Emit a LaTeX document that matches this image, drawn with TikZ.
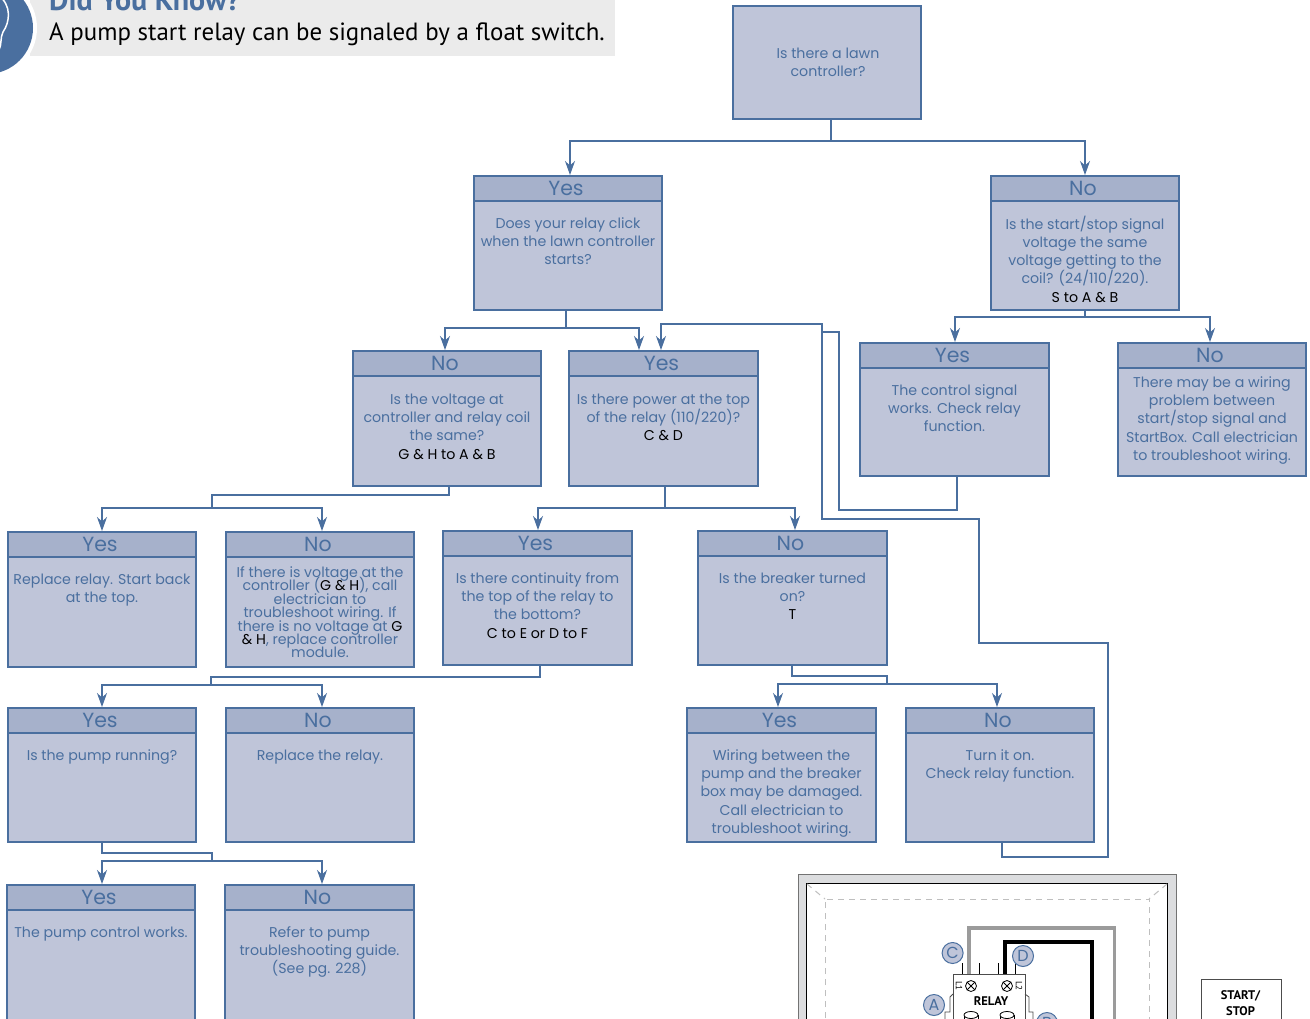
\documentclass[tikz,border=0pt]{standalone}
\usepackage{fontspec}
\setmainfont{Poppins}
\newfontfamily\din{PT Sans}
\usetikzlibrary{arrows.meta,calc}
\definecolor{bl}{HTML}{4A6F9F}
\definecolor{boxf}{HTML}{BFC5D9}
\definecolor{headf}{HTML}{A6B1CB}
\definecolor{pan}{HTML}{EBEBEB}
\definecolor{wallg}{HTML}{DCDDDF}
\definecolor{wireg}{HTML}{9B9B9B}
\newcommand\tightls{\lineskiplimit=-100pt\relax}
\tikzset{
 bodybox/.style={draw=bl,fill=boxf,line width=1.6pt,anchor=north west,inner sep=0,outer sep=0},
 headbox/.style={draw=bl,fill=headf,line width=1.6pt,anchor=north west,inner sep=0,outer sep=0,text=bl,font=\fontsize{20.5}{22}\selectfont},
 conn/.style={draw=bl,line width=1.25pt},
 arr/.style={conn,shorten >=1pt,-{Stealth[length=14pt,width=10pt,inset=4.5pt]}},
 tag/.style={circle,draw=bl,fill=boxf,line width=1pt,minimum size=21pt,inner sep=0,text=bl,font=\fontsize{16}{18}\selectfont},
 thin wire/.style={draw=black,line width=.8pt}
}
\newcommand\blk[1]{{\color{black}#1}}
\newcommand\topstrut{\rule{0pt}{12pt}}
% name x0 y0 x1 y1 head leading topoffset text
\newcommand\qbox[9]{%
 \pgfmathsetlengthmacro\qw{(#4-#2)*1pt}\pgfmathsetlengthmacro\qh{(#5-#3)*1pt}%
 \node[bodybox,minimum width=\qw,minimum height=\qh] (#1) at (#2,#3) {};
 \node[headbox,minimum width=\qw,minimum height=25pt] (#1h) at (#2,#3) {\hspace*{-4pt}\raisebox{-1.5pt}{#6}};
 \node[anchor=north,inner sep=0,align=center,text=bl,font={\fontsize{14.2}{#7}\selectfont\tightls}] (#1t) at ($(#1h.south)+(0,#8)$) {\topstrut #9};
}
\begin{document}
\begin{tikzpicture}[x=1pt,y=-1pt]
\useasboundingbox (0,0) rectangle (1310,1018);
\clip (0,0) rectangle (1310,1018);
\fill[white] (0,0) rectangle (1310,1018);
% did you know panel
\fill[pan] (30,-2) rectangle (615,56);
\fill[white] (-13,28) circle (50);
\fill[bl] (-13,28) circle (46);
\draw[white,line width=1.5pt] (-2,-5) .. controls (12,5) and (10,22) .. (3,32) .. controls (0,38) and (2,44) .. (-1,50);
\node[anchor=base west,inner sep=0,text=bl,font=\din\bfseries\fontsize{30}{32}\selectfont] (dyk) at (49,10) {Did You Know?};
\node[anchor=base west,inner sep=0,text=black,font=\din\fontsize{24.9}{28}\selectfont] (dyk2) at (49,40) {A pump start relay can be signaled by a float switch.};
% boxes
\node[bodybox,minimum width=188pt,minimum height=113pt] (lawn) at (733,6) {};
\node[anchor=north,inner sep=0,align=center,text=bl,font=\fontsize{14.2}{18.2}\selectfont] (lawnt) at (828,46) {\topstrut Is there a lawn\\controller?};
\qbox{yA}{474}{176}{662}{310}{Yes}{18.3}{15}{Does your relay click\\when the lawn controller\\starts?}
\qbox{nA}{991}{176}{1179}{310}{No}{18.3}{14.5}{Is the start/stop signal\\voltage the same\\voltage getting to the\\coil? (24/110/220).\\\blk{S to A \& B}}
\qbox{nB}{353}{351}{541}{486}{No}{18.3}{16}{Is the voltage at\\controller and relay coil\\the same?\\\blk{G \& H to A \& B}}
\qbox{yB}{569}{351}{758}{486}{Yes}{18.3}{16}{Is there power at the top\\of the relay (110/220)?\\\blk{C \& D}}
\qbox{yC}{860}{343}{1049}{476}{Yes}{18.3}{15}{The control signal\\works. Check relay\\function.}
\qbox{nC}{1118}{343}{1306}{476}{No}{18.3}{7}{There may be a wiring\\problem between\\start/stop signal and\\StartBox. Call electrician\\to troubleshoot wiring.}
\qbox{yD}{8}{532}{196}{667}{Yes}{18.3}{15}{Replace relay. Start back\\at the top.}
\qbox{nD}{226}{532}{414}{667}{No}{13.45}{8}{If there is voltage at the\\controller (\blk{G \& H}), call\\electrician to\\troubleshoot wiring. If\\there is no voltage at \blk{G}\\\blk{\& H}, replace controller\\module.}
\qbox{yE}{443}{531}{632}{665}{Yes}{18.3}{15}{Is there continuity from\\the top of the relay to\\the bottom?\\\blk{C to E or D to F}}
\qbox{nE}{698}{531}{887}{665}{No}{18.3}{15}{Is the breaker turned\\on?\\\blk{T}}
\qbox{yF}{8}{708}{196}{842}{Yes}{18.3}{15}{Is the pump running?}
\qbox{nF}{226}{708}{414}{842}{No}{18.3}{15}{Replace the relay.}
\qbox{yG}{687}{708}{876}{842}{Yes}{18.3}{15}{Wiring between the\\pump and the breaker\\box may be damaged.\\Call electrician to\\troubleshoot wiring.}
\qbox{nG}{906}{708}{1094}{842}{No}{18.3}{15}{Turn it on.\\Check relay function.}
\qbox{yH}{7}{885}{195}{1040}{Yes}{18.3}{15}{The pump control works.}
\qbox{nH}{225}{885}{414}{1040}{No}{18.3}{15}{Refer to pump\\troubleshooting guide.\\(See pg. 228)}
% connectors
\coordinate (j1) at (831,141);\coordinate (a1) at (570,141);\coordinate (b1) at (1085,141);
\draw[conn] (lawn.south -| j1) -- (j1);
\draw[arr] (j1) -- (a1) -- (a1 |- yA.north);
\draw[arr] (j1) -- (b1) -- (b1 |- nA.north);
\coordinate (j2) at (566,328);\coordinate (a2) at (445,328);\coordinate (b2) at (639,328);
\draw[conn] (yA.south -| j2) -- (j2);
\draw[arr] (j2) -- (a2) -- (a2 |- nB.north);
\draw[arr] (j2) -- (b2) -- (b2 |- yB.north);
\coordinate (j3) at (1085,317);\coordinate (a3) at (955,317);\coordinate (b3) at (1210,317);
\draw[conn] (nA.south -| j3) -- (j3);
\draw[arr] (j3) -- (a3) -- (a3 |- yC.north);
\draw[arr] (j3) -- (b3) -- (b3 |- nC.north);
\coordinate (j4a) at (449,495);\coordinate (j4b) at (212,495);\coordinate (j4) at (212,508);\coordinate (a4) at (102,508);\coordinate (b4) at (322,508);
\draw[conn] (nB.south -| j4a) -- (j4a) -- (j4b) -- (j4);
\draw[arr] (j4) -- (a4) -- (a4 |- yD.north);
\draw[arr] (j4) -- (b4) -- (b4 |- nD.north);
\coordinate (j5) at (665,508);\coordinate (a5) at (538,508);\coordinate (b5) at (795,508);
\draw[conn] (yB.south -| j5) -- (j5);
\draw[arr] (j5) -- (a5) -- (a5 |- yE.north);
\draw[arr] (j5) -- (b5) -- (b5 |- nE.north);
\coordinate (j6a) at (540,677);\coordinate (j6b) at (211,677);\coordinate (j6) at (211,685);\coordinate (a6) at (102,685);\coordinate (b6) at (322,685);
\draw[conn] (yE.south -| j6a) -- (j6a) -- (j6b) -- (j6);
\draw[arr] (j6) -- (a6) -- (a6 |- yF.north);
\draw[arr] (j6) -- (b6) -- (b6 |- nF.north);
\coordinate (j7a) at (792,676);\coordinate (j7b) at (887,676);\coordinate (j7) at (887,684);\coordinate (a7) at (778,684);\coordinate (b7) at (997,684);
\draw[conn] (nE.south -| j7a) -- (j7a) -- (j7b) -- (j7);
\draw[arr] (j7) -- (a7) -- (a7 |- yG.north);
\draw[arr] (j7) -- (b7) -- (b7 |- nG.north);
\coordinate (j8a) at (102,853);\coordinate (j8b) at (212,853);\coordinate (j8) at (212,861);\coordinate (a8) at (102,861);\coordinate (b8) at (322,861);
\draw[conn] (yF.south -| j8a) -- (j8a) -- (j8b) -- (j8);
\draw[arr] (j8) -- (a8) -- (a8 |- yH.north);
\draw[arr] (j8) -- (b8) -- (b8 |- nH.north);
% return lines
\coordinate (r1) at (1002,857);\coordinate (r2) at (1108,857);\coordinate (r3) at (1108,643);\coordinate (r4) at (979,643);\coordinate (r5) at (979,519);\coordinate (r6) at (822,519);\coordinate (r7) at (822,324);\coordinate (r8) at (661,324);
\draw[arr] (nG.south -| r1) -- (r1) -- (r2) -- (r3) -- (r4) -- (r5) -- (r6) -- (r7) -- (r8) -- (r8 |- yB.north);
\coordinate (s1) at (957,510);\coordinate (s2) at (839,510);\coordinate (s3) at (839,332);\coordinate (s4) at (822,332);
\draw[conn] (yC.south -| s1) -- (s1) -- (s2) -- (s3) -- (s4);
% house plan
\draw[draw=black!55,line width=1pt,fill=wallg] (798,874) rectangle (1176,1040);
\draw[draw=black,line width=1pt,fill=white] (806,883) rectangle (1167.5,1040);
\draw[draw=black!25,line width=1pt,dash pattern=on 6pt off 5pt] (825,1040) -- (825,899) -- (1149,899) -- (1149,1040);
\draw[draw=black!25,line width=1pt,dash pattern=on 6pt off 5pt] (807,884) -- (825,899) (1167,884) -- (1149,899);
\draw[wireg,line width=3.5pt] (969,976) -- (969,928) -- (1114.5,928) -- (1114.5,1040);
\draw[black,line width=3.5pt] (1005,976) -- (1005,942) -- (1092,942) -- (1092,1040);
\foreach \tx in {962,979,998.5,1015}{\draw[thin wire] (\tx,963) -- (\tx,974);}
\node[tag] (tagC) at (952.6,953) {C};
\node[tag] (tagD) at (1023,956) {D};
\node[tag] (tagA) at (934,1005) {A};
\node[tag] (tagB) at (1047,1023) {B};
\draw[draw=black!70,line width=1pt,fill=white] (953,1040) -- (953,974) -- (1025,974) -- (1025,1040);
\draw[draw=black!70,line width=.8pt] (953,994) -- (950,997) -- (950,1012) -- (945,1012) -- (945,1025);
\draw[draw=black!70,line width=.8pt] (1025,994) -- (1029,997) -- (1029,1012) -- (1033,1012) -- (1033,1025);
\foreach \cx in {971,1007}{
 \draw[black,line width=.8pt] (\cx,986) circle (5.5);
 \draw[black,line width=.8pt] (\cx-3.9,982.1) -- (\cx+3.9,989.9) (\cx-3.9,989.9) -- (\cx+3.9,982.1);
 \draw[black,line width=.8pt,fill=white] (\cx-7,1015) -- (\cx-7,1030) -- (\cx+7,1030) -- (\cx+7,1015);
 \draw[black,line width=.8pt,fill=white] (\cx,1015) ellipse (7 and 3.5);
}
\node[rotate=-90,inner sep=0,font=\din\fontsize{9}{10}\selectfont] (lA) at (959,986) {L1};
\node[rotate=-90,inner sep=0,font=\din\fontsize{9}{10}\selectfont] (lB) at (1019,986) {L2};
\node[inner sep=0,font=\din\bfseries\fontsize{12.5}{14}\selectfont] (rly) at (991,1001) {RELAY};
\node[draw=black!70,line width=1pt,fill=white,anchor=north west,minimum width=80pt,minimum height=70pt,inner sep=0] (ss) at (1201,979) {};
\node[anchor=north,inner sep=0,align=center,font=\din\bfseries\fontsize{12.5}{16}\selectfont] (sst) at (1240.5,990) {START/\\STOP};
\end{tikzpicture}
\end{document}
